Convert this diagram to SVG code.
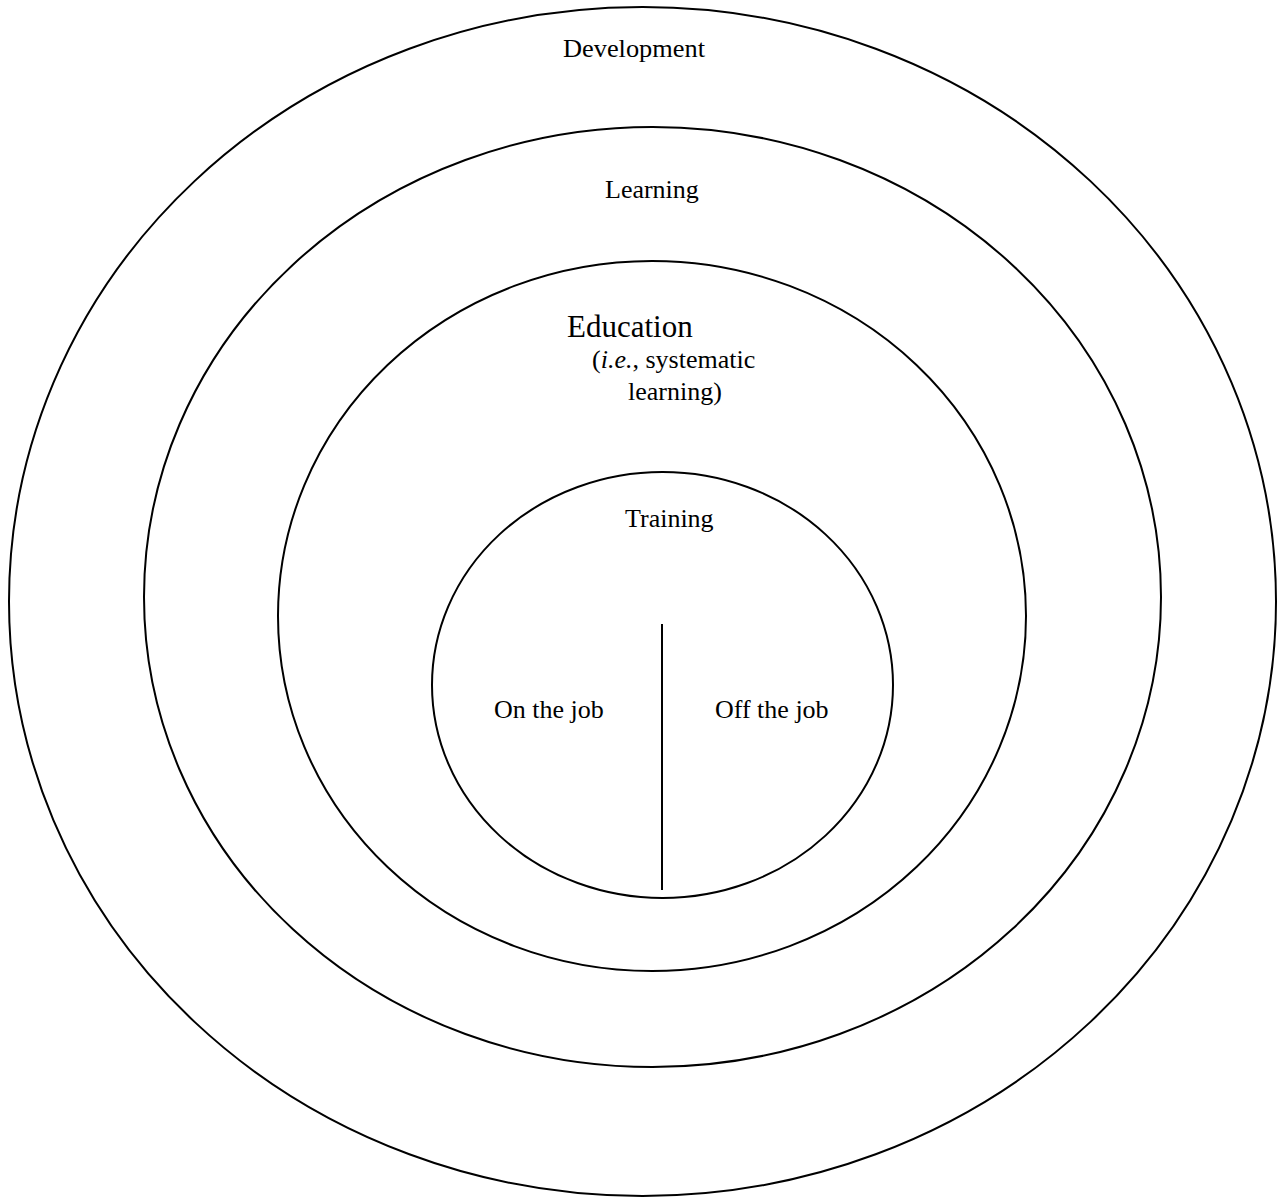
<svg xmlns="http://www.w3.org/2000/svg" width="1285" height="1199" viewBox="0 0 1285 1199">
<style>
.ring{fill:none;stroke:#000;stroke-width:2}
.t{font-family:"Liberation Serif","Times New Roman",serif;font-size:26px;fill:#000}
</style>
<rect width="1285" height="1199" fill="#fff"/>
<g id="development">
<ellipse class="ring" cx="642.5" cy="601.5" rx="633.5" ry="594.5"/>
<text class="t" x="563" y="57" textLength="142" lengthAdjust="spacingAndGlyphs">Development</text>
</g>
<g id="learning">
<ellipse class="ring" cx="652.5" cy="597" rx="508.5" ry="470"/>
<text class="t" x="605" y="198">Learning</text>
</g>
<g id="education">
<ellipse class="ring" cx="652" cy="616" rx="374" ry="355"/>
<text class="t" x="567" y="337" style="font-size:31px">Education</text>
<text class="t" x="592" y="368">(<tspan font-style="italic">i.e.</tspan>, systematic</text>
<text class="t" x="628" y="400">learning)</text>
</g>
<g id="training">
<ellipse class="ring" cx="662.5" cy="685" rx="230.5" ry="213"/>
<text class="t" x="625" y="527">Training</text>
</g>
<g id="on-the-job">
<text class="t" x="494" y="718">On the job</text>
</g>
<g id="off-the-job">
<text class="t" x="715" y="718">Off the job</text>
</g>
<g id="connectors">
<line x1="662" y1="624" x2="662" y2="890" stroke="#000" stroke-width="2"/>
</g>
</svg>
